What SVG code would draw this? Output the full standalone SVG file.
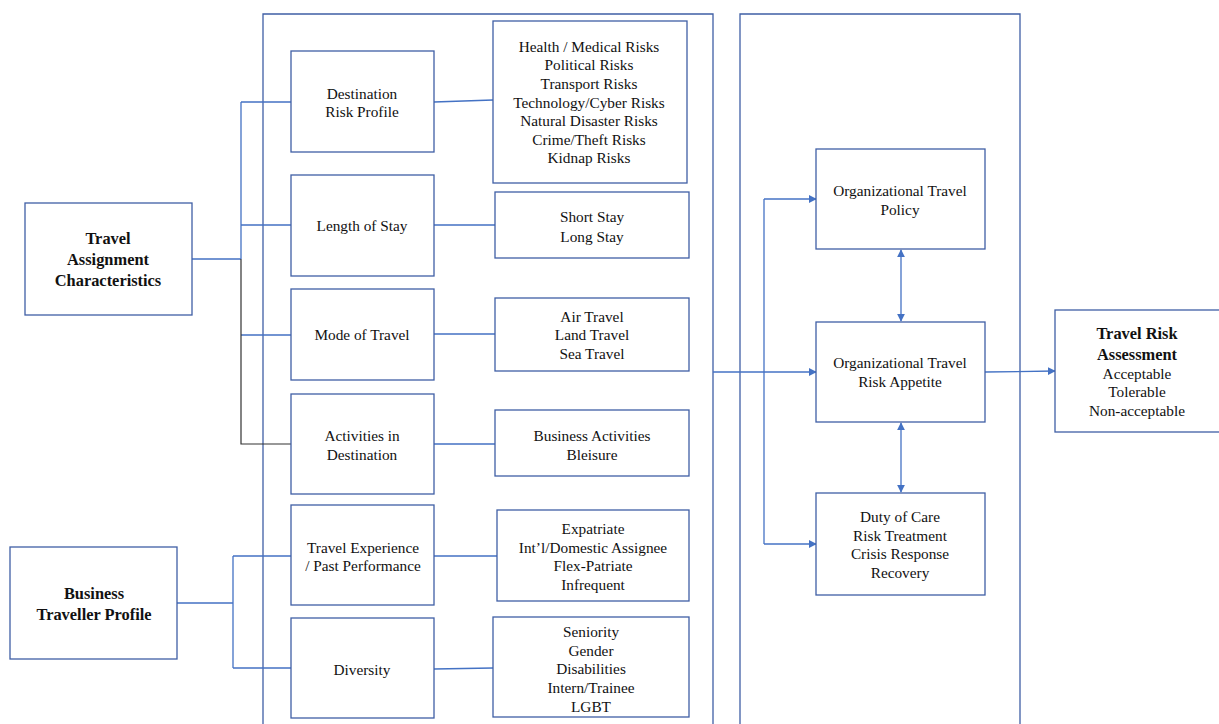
<svg xmlns="http://www.w3.org/2000/svg" width="1219" height="724" viewBox="0 0 1219 724">
<defs>
<style>
.box{fill:#fff;stroke:#3f5fa5;stroke-width:1.3}
.frame{fill:none;stroke:#3f5fa5;stroke-width:1.3}
.c{fill:none;stroke:#4472c4;stroke-width:1.3}
.dk{fill:none;stroke:#333;stroke-width:1.2}
text{font-family:"Liberation Serif","Times New Roman",serif;font-size:15.3px;fill:#111;text-anchor:middle;dominant-baseline:central}
.b{font-weight:bold;font-size:16.4px}
</style>
<marker id="ah" viewBox="0 0 10 10" refX="9" refY="5" markerWidth="8" markerHeight="8" markerUnits="userSpaceOnUse" orient="auto-start-reverse">
<path d="M0,0 L10,5 L0,10 z" fill="#4472c4"/>
</marker>
</defs>
<rect width="1219" height="724" fill="#fff"/>
<g id="frames">
<path class="frame" d="M263,730 V14 H713 V730"/>
<path class="frame" d="M740,730 V14 H1020 V730"/>
</g>
<g id="connectors">
<path class="c" d="M192,259 H241 M241,102 V259 M241,102 H291 M241,225 H291 M241,335 H291"/>
<path class="dk" d="M241,259 V444 H291"/>
<path class="c" d="M177,603 H233 M233,556 V668 M233,556 H291 M233,668 H291"/>
<path class="c" d="M434,102 L493,100 M434,225 H495 M434,334 H495 M434,444 H495 M434,556 H497 M434,669 L493,668"/>
<path class="c" d="M713,372 H816" marker-end="url(#ah)"/>
<path class="c" d="M764,199 V544"/>
<path class="c" d="M764,199 H816" marker-end="url(#ah)"/>
<path class="c" d="M764,544 H816" marker-end="url(#ah)"/>
<path class="c" d="M985,372 L1055,371" marker-end="url(#ah)"/>
<path class="c" d="M901,250 V321" marker-start="url(#ah)" marker-end="url(#ah)"/>
<path class="c" d="M901,423 V492" marker-start="url(#ah)" marker-end="url(#ah)"/>
</g>
<g id="tac"><rect class="box" x="25" y="203" width="167" height="112"/>
<text class="b" x="108" y="238">Travel</text><text class="b" x="108" y="259">Assignment</text><text class="b" x="108" y="280">Characteristics</text></g>
<g id="btp"><rect class="box" x="10" y="547" width="167" height="112"/>
<text class="b" x="94" y="593">Business</text><text class="b" x="94" y="614">Traveller Profile</text></g>
<g id="drp"><rect class="box" x="291" y="51" width="143" height="101"/>
<text x="362" y="93">Destination</text><text x="362" y="111">Risk Profile</text></g>
<g id="los"><rect class="box" x="291" y="175" width="143" height="101"/>
<text x="362" y="225">Length of Stay</text></g>
<g id="mot"><rect class="box" x="291" y="289" width="143" height="91"/>
<text x="362" y="334">Mode of Travel</text></g>
<g id="aid"><rect class="box" x="291" y="394" width="143" height="100"/>
<text x="362" y="435">Activities in</text><text x="362" y="454">Destination</text></g>
<g id="tep"><rect class="box" x="291" y="505" width="143" height="100"/>
<text x="363" y="547">Travel Experience</text><text x="363" y="565">/ Past Performance</text></g>
<g id="div"><rect class="box" x="291" y="618" width="143" height="100"/>
<text x="362" y="669">Diversity</text></g>
<g id="risks"><rect class="box" x="493" y="21" width="194" height="162"/>
<text x="589" y="46">Health / Medical Risks</text><text x="589" y="64">Political Risks</text><text x="589" y="83">Transport Risks</text><text x="589" y="102">Technology/Cyber Risks</text><text x="589" y="120">Natural Disaster Risks</text><text x="589" y="139">Crime/Theft Risks</text><text x="589" y="157">Kidnap Risks</text></g>
<g id="stay"><rect class="box" x="495" y="192" width="194" height="66"/>
<text x="592" y="216">Short Stay</text><text x="592" y="236">Long Stay</text></g>
<g id="modes"><rect class="box" x="495" y="298" width="194" height="73"/>
<text x="592" y="316">Air Travel</text><text x="592" y="334">Land Travel</text><text x="592" y="353">Sea Travel</text></g>
<g id="acts"><rect class="box" x="495" y="410" width="194" height="66"/>
<text x="592" y="435">Business Activities</text><text x="592" y="454">Bleisure</text></g>
<g id="exp"><rect class="box" x="497" y="510" width="192" height="91"/>
<text x="593" y="528">Expatriate</text><text x="593" y="547">Int’l/Domestic Assignee</text><text x="593" y="565">Flex-Patriate</text><text x="593" y="584">Infrequent</text></g>
<g id="divlist"><rect class="box" x="493" y="617" width="196" height="100"/>
<text x="591" y="631">Seniority</text><text x="591" y="650">Gender</text><text x="591" y="668">Disabilities</text><text x="591" y="687">Intern/Trainee</text><text x="591" y="706">LGBT</text></g>
<g id="otp"><rect class="box" x="816" y="149" width="169" height="100"/>
<text x="900" y="190">Organizational Travel</text><text x="900" y="209">Policy</text></g>
<g id="otra"><rect class="box" x="816" y="322" width="169" height="100"/>
<text x="900" y="362">Organizational Travel</text><text x="900" y="381">Risk Appetite</text></g>
<g id="doc"><rect class="box" x="816" y="493" width="169" height="102"/>
<text x="900" y="516">Duty of Care</text><text x="900" y="535">Risk Treatment</text><text x="900" y="553">Crisis Response</text><text x="900" y="572">Recovery</text></g>
<g id="tra"><rect class="box" x="1055" y="310" width="170" height="122"/>
<text class="b" x="1137" y="333">Travel Risk</text><text class="b" x="1137" y="354">Assessment</text><text x="1137" y="373">Acceptable</text><text x="1137" y="391">Tolerable</text><text x="1137" y="410">Non-acceptable</text></g>
</svg>
